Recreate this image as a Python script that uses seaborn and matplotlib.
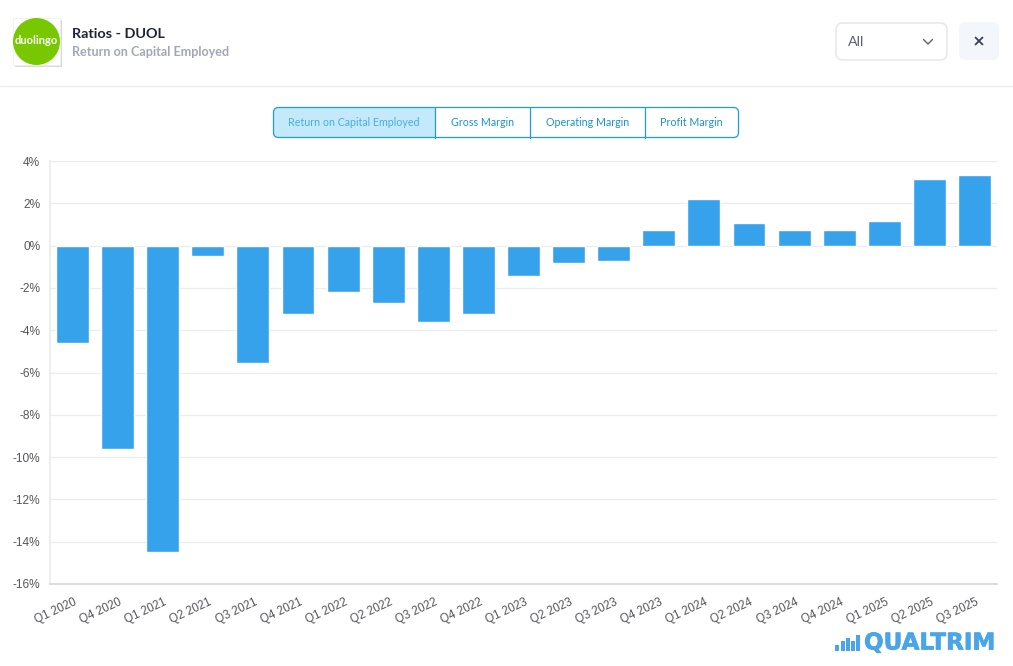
import matplotlib
matplotlib.use("Agg")
import matplotlib.pyplot as plt
from matplotlib.patches import Circle, FancyBboxPatch, Rectangle
from matplotlib.transforms import ScaledTranslation
import matplotlib.patheffects as pe
import pandas as pd
import seaborn as sns

quarters = ["Q1 2020", "Q4 2020", "Q1 2021", "Q2 2021", "Q3 2021", "Q4 2021", "Q1 2022",
            "Q2 2022", "Q3 2022", "Q4 2022", "Q1 2023", "Q2 2023", "Q3 2023", "Q4 2023",
            "Q1 2024", "Q2 2024", "Q3 2024", "Q4 2024", "Q1 2025", "Q2 2025", "Q3 2025"]
roce = [-4.6, -9.6, -14.5, -0.5, -5.55, -3.25, -2.2, -2.7, -3.6, -3.25, -1.45, -0.8, -0.75,
        0.75, 2.2, 1.05, 0.75, 0.75, 1.15, 3.15, 3.35]
y_ticks = [4, 2, 0, -2, -4, -6, -8, -10, -12, -14, -16]
tabs = ["Return on Capital Employed", "Gross Margin", "Operating Margin", "Profit Margin"]
tab_edges = [273.5, 435, 530, 645, 738.5]

W, H = 1013, 666
BLUE = "#36A2EB"
sns.set_theme(style="white")
plt.rcParams["font.family"] = ["Lato", "DejaVu Sans"]

fig = plt.figure(figsize=(W / 100, H / 100), dpi=100, facecolor="white")

# Page furniture is laid out in pixel coordinates on a full-figure layer
ui = fig.add_axes([0, 0, 1, 1], zorder=0)
ui.set_xlim(0, W)
ui.set_ylim(H, 0)
ui.axis("off")

# Header: logo, titles, divider
ui.add_patch(Rectangle((15, 20), 46.5, 46.5, fc="#c9c9c9", ec="none", alpha=0.7))
ui.add_patch(Rectangle((13, 17.5), 47, 47, fc="white", ec="#efefef", lw=0.5))
ui.add_patch(Circle((36.5, 41.5), 23.5, fc="#78C800", ec="none"))
ui.text(36.5, 41, "duolingo", color="white", fontsize=8, fontweight="bold",
        ha="center", va="center")
ui.text(72, 33.5, "Ratios - DUOL", color="#1f2336", fontsize=10.4, fontweight="bold",
        ha="left", va="center")
ui.text(72, 52.5, "Return on Capital Employed", color="#a3a7b9", fontsize=9.1, fontweight="bold",
        ha="left", va="center")
ui.plot([0, W], [85.5, 85.5], color="#ececf0", lw=1)

# Period selector and close button
ui.add_patch(FancyBboxPatch((836, 23), 111, 37, boxstyle="round,pad=0,rounding_size=7",
                            fc="white", ec="#e3e4e8", lw=1))
ui.text(848, 41.5, "All", color="#5c6070", fontsize=10.3, ha="left", va="center")
ui.plot([923.5, 928, 932.5], [39.5, 44, 39.5], color="#5c6070", lw=1, solid_capstyle="round")
ui.add_patch(FancyBboxPatch((959, 22), 40, 38, boxstyle="round,pad=0,rounding_size=6",
                            fc="#f3f6fb", ec="none"))
ui.plot([975.5, 982.5], [37.5, 44.5], color="#3b4154", lw=1.3, solid_capstyle="round")
ui.plot([975.5, 982.5], [44.5, 37.5], color="#3b4154", lw=1.3, solid_capstyle="round")

# Metric tabs
ui.add_patch(FancyBboxPatch((tab_edges[0], 107.5), tab_edges[1] - tab_edges[0], 30,
                            boxstyle="round,pad=0,rounding_size=5",
                            fc="#C4E9FB", ec="none"))
ui.add_patch(Rectangle((tab_edges[1] - 8, 107.5), 8, 30, fc="#C4E9FB", ec="none"))
ui.add_patch(FancyBboxPatch((tab_edges[0], 107.5), tab_edges[-1] - tab_edges[0], 30,
                            boxstyle="round,pad=0,rounding_size=5",
                            fc="none", ec="#1F9BDB", lw=0.9))
for edge in tab_edges[1:-1]:
    ui.plot([edge, edge], [107.5, 137.5], color="#1F9BDB", lw=0.9)
for i, label in enumerate(tabs):
    ui.text((tab_edges[i] + tab_edges[i + 1]) / 2, 122, label, fontsize=7.7, ha="center", va="center",
            color="#45AEE6" if i == 0 else "#1793D1")

# Watermark: rising bars and wordmark
mark_x = [834.5, 840.5, 845.5, 851, 856]
mark_h = [6, 10, 13, 10, 16]
for x, h in zip(mark_x, mark_h):
    ui.add_patch(Rectangle((x, 651 - h), 4, h, fc="#4AA5E8", ec="none"))
ui.text(864, 643, "QUALTRIM", color="#4AA5E8", fontsize=16.6, fontweight="bold",
        ha="left", va="center", family=["DejaVu Sans"],
        path_effects=[pe.withStroke(linewidth=0.5, foreground="#4AA5E8")])

# Chart
ax = fig.add_axes([50 / W, 1 - 584 / H, (997 - 50) / W, (584 - 161) / H], zorder=1)
ax.patch.set_alpha(0)
df = pd.DataFrame({"quarter": quarters, "roce": roce})
sns.barplot(data=df, x="quarter", y="roce", color=BLUE, saturation=1, width=0.73, ax=ax, zorder=3)
ax.set_xlim(-0.5, len(quarters) - 0.5)
ax.set_ylim(-16, 4)
ax.set_xlabel("")
ax.set_ylabel("")
ax.set_yticks(y_ticks)
ax.set_yticklabels([f"{v}%" for v in y_ticks], fontsize=8.6, color="#55565c",
                   family=["Liberation Sans"])
ax.set_xticks(range(len(quarters)))
ax.set_xticklabels(quarters, rotation=25, ha="right", rotation_mode="anchor", fontsize=8.4,
                   color="#55565c", family=["Liberation Sans"])
ax.tick_params(axis="both", length=0)
ax.tick_params(axis="x", pad=9)
ax.tick_params(axis="y", pad=7)
shift = ScaledTranslation(1 / 100, 0, fig.dpi_scale_trans)
for lab in ax.get_xticklabels():
    lab.set_transform(lab.get_transform() + shift)
ax.grid(axis="y", color="#ececec", lw=0.9, zorder=0)
ax.set_axisbelow(True)
for side in ("top", "right"):
    ax.spines[side].set_visible(False)
ax.spines["left"].set_color("#ececec")
ax.spines["bottom"].set_color("#d8d8d8")

fig.savefig("out.png", dpi=100, facecolor="white")
